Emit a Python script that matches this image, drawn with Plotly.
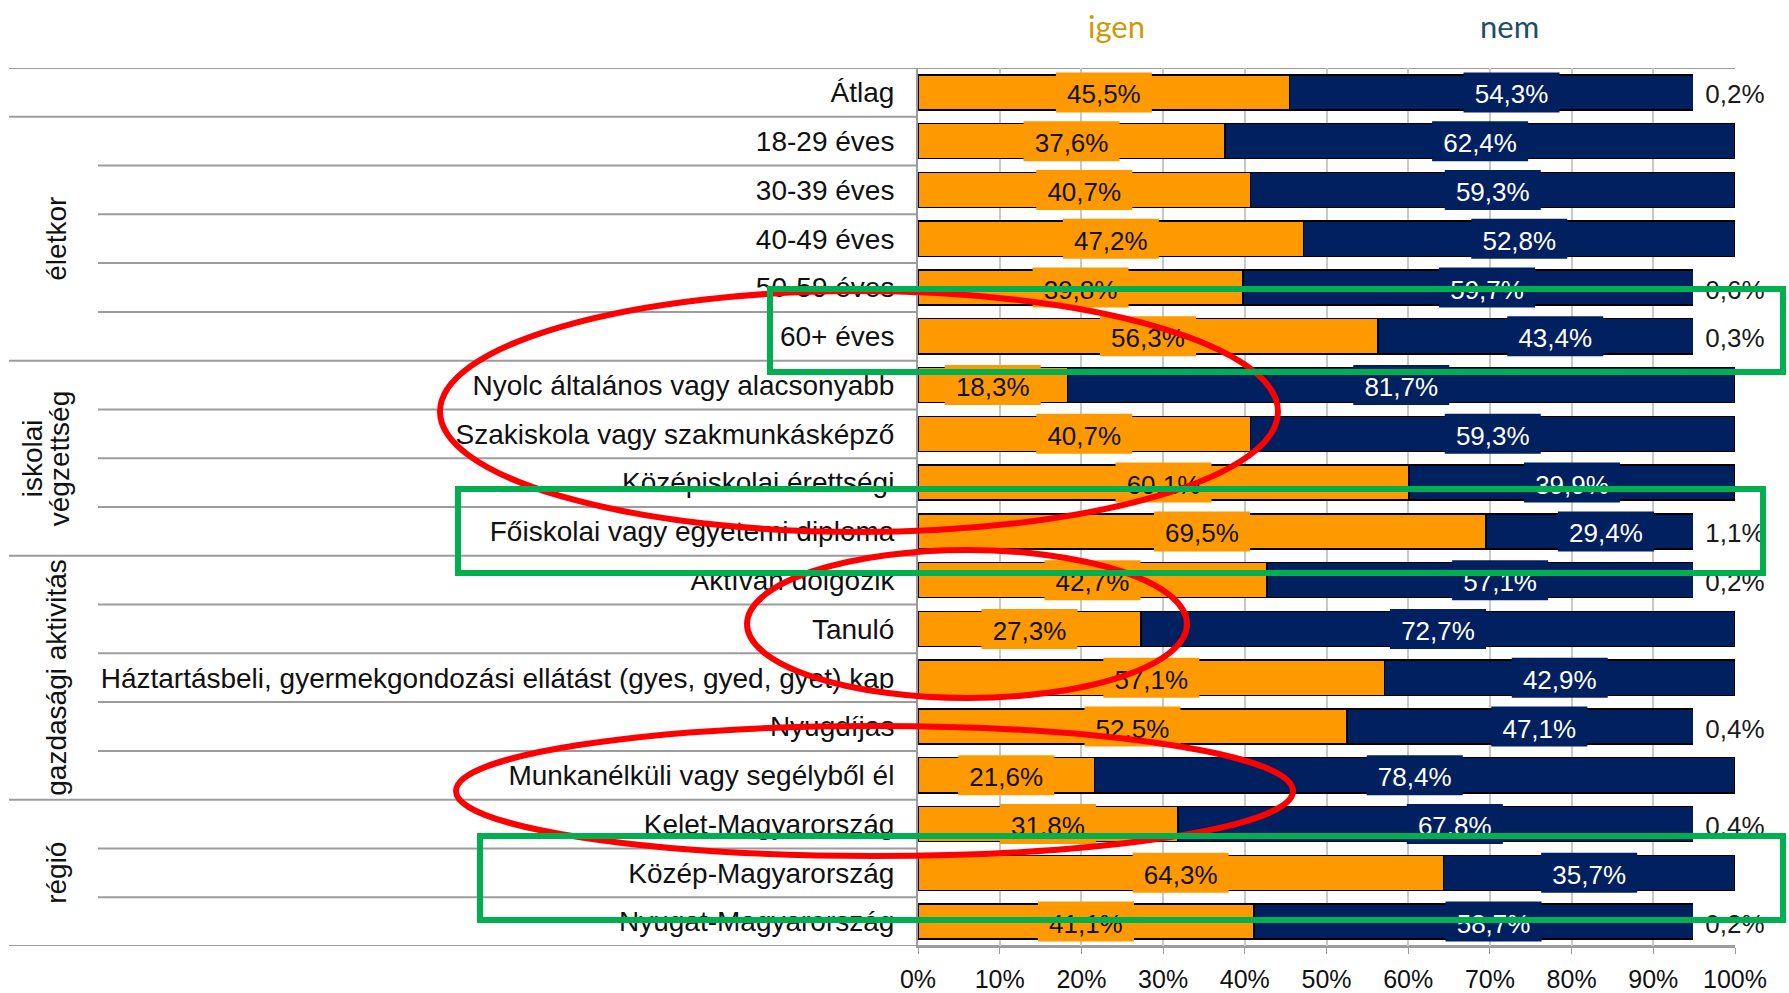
import plotly.graph_objects as go

# rows, top to bottom
labels = ["Átlag", "18-29 éves", "30-39 éves", "40-49 éves", "50-59 éves", "60+ éves",
          "Nyolc általános vagy alacsonyabb", "Szakiskola vagy szakmunkásképző",
          "Középiskolai érettségi", "Főiskolai vagy egyetemi diploma",
          "Aktívan dolgozik", "Tanuló",
          "Háztartásbeli, gyermekgondozási ellátást (gyes, gyed, gyet) kap",
          "Nyugdíjas", "Munkanélküli vagy segélyből él",
          "Kelet-Magyarország", "Közép-Magyarország", "Nyugat-Magyarország"]
igen = [45.5, 37.6, 40.7, 47.2, 39.8, 56.3, 18.3, 40.7, 60.1, 69.5,
        42.7, 27.3, 57.1, 52.5, 21.6, 31.8, 64.3, 41.1]
nem = [54.3, 62.4, 59.3, 52.8, 59.7, 43.4, 81.7, 59.3, 39.9, 29.4,
       57.1, 72.7, 42.9, 47.1, 78.4, 67.8, 35.7, 58.7]
egyeb = [0.2, 0, 0, 0, 0.6, 0.3, 0, 0, 0, 1.1,
         0.2, 0, 0, 0.4, 0, 0.4, 0, 0.2]
groups = [("életkor", 1, 5), ("iskolai", 6, 9), ("végzettség", 6, 9),
          ("gazdasági aktivitás", 10, 14), ("régió", 15, 17)]
group_x = [57, 32, 59, 57, 57]
group_breaks = [0.5, 5.5, 9.5, 14.5]

ORANGE = '#FF9900'
NAVY = '#002060'
GRID = '#9c9c9c'
FONT = 'Liberation Sans, Arial, sans-serif'

W, H = 1789, 993
L, R, T, B = 918, 1735, 68, 946
ROW_PX = (B - T) / len(labels)


def px(x):
    return (x - L) / (R - L)


def py(y):
    return (B - y) / (B - T)


def fmt(v):
    return f"{v:.1f}".replace('.', ',') + '%'


rows = list(range(len(labels)))
fig = go.Figure()
fig.add_trace(go.Bar(y=rows, x=igen, orientation='h', name='igen', width=0.72,
                     marker=dict(color=ORANGE, line=dict(color='black', width=1.5))))
fig.add_trace(go.Bar(y=rows, x=nem, orientation='h', name='nem', width=0.72,
                     marker=dict(color=NAVY, line=dict(color='black', width=1.5))))
fig.add_trace(go.Bar(y=rows, x=egyeb, orientation='h', name='egyéb', width=0.72,
                     marker=dict(color='white', line=dict(width=0))))

shapes = []
# separator lines in the label area
for k in range(len(labels) + 1):
    yb = k - 0.5
    if k == 0 or k == len(labels):
        x0, x1 = px(9), 1
    elif yb in group_breaks:
        x0, x1 = px(9), 0
    else:
        x0, x1 = px(98), 0
    shapes.append(dict(type='line', xref='paper', yref='y', x0=x0, x1=x1, y0=yb, y1=yb,
                       line=dict(color=GRID, width=2), layer='below'))

BOX_H = 40 / ROW_PX / 2


def label_box(xref, xc, half, y, text, fill, color):
    return dict(type='rect', xref=xref, yref='y', layer='above',
                x0=xc - half, x1=xc + half, y0=y - BOX_H, y1=y + BOX_H,
                fillcolor=fill, line=dict(width=0),
                label=dict(text=text, textposition='middle center', padding=0,
                           font=dict(family=FONT, size=26, color=color)))


half_x = 48 / (R - L) * 100
half_p = 42 / (R - L)
for i in rows:
    shapes.append(label_box('x', igen[i] / 2, half_x, i, fmt(igen[i]), ORANGE, '#111111'))
    shapes.append(label_box('x', igen[i] + nem[i] / 2, half_x, i, fmt(nem[i]), NAVY, 'white'))
    if egyeb[i] > 0:
        shapes.append(label_box('paper', 1, half_p, i, fmt(egyeb[i]), 'white', '#1a1a1a'))

# highlight marks drawn over the chart
for x0, y0, x1, y1 in [(440, 291, 1278, 532), (747, 550, 1187, 698), (456, 726, 1293, 856)]:
    shapes.append(dict(type='circle', xref='paper', yref='paper', layer='above',
                       x0=px(x0), x1=px(x1), y0=py(y1), y1=py(y0),
                       line=dict(color='#FF0000', width=6)))
for x0, y0, x1, y1 in [(770, 289, 1783, 372), (458, 489, 1763, 573), (480, 836, 1783, 920)]:
    shapes.append(dict(type='rect', xref='paper', yref='paper', layer='above',
                       x0=px(x0), x1=px(x1), y0=py(y1), y1=py(y0),
                       line=dict(color='#00B050', width=6)))

annotations = []
for (name, a, b), gx in zip(groups, group_x):
    annotations.append(dict(x=px(gx), y=(a + b) / 2, xref='paper', yref='y',
                            xanchor='center', yanchor='middle',
                            text=name, textangle=-90, showarrow=False,
                            font=dict(family=FONT, size=28, color='#111111')))

annotations.append(dict(x=px(1116), y=py(26), xref='paper', yref='paper', text='igen',
                        xanchor='center', yanchor='middle', showarrow=False,
                        font=dict(family='Lato, Open Sans', size=31, color='#CC9A06')))
annotations.append(dict(x=px(1509), y=py(26), xref='paper', yref='paper', text='nem',
                        xanchor='center', yanchor='middle', showarrow=False,
                        font=dict(family='Lato, Open Sans', size=31, color='#1F4E63')))

fig.update_layout(
    barmode='stack', showlegend=False, width=W, height=H,
    margin=dict(l=L, r=W - R, t=T, b=H - B),
    plot_bgcolor='white', paper_bgcolor='white',
    xaxis=dict(range=[0, 100], dtick=10, ticksuffix='%', showgrid=True,
               gridcolor='#c8c8c8', gridwidth=1.5, zeroline=False, automargin=False,
               showline=True, linecolor=GRID, linewidth=2,
               ticks='outside', ticklen=6, tickcolor=GRID, ticklabelstandoff=4,
               tickfont=dict(family=FONT, size=25, color='#111111')),
    yaxis=dict(range=[len(labels) - 0.5, -0.5], tickvals=rows, ticktext=labels,
               showgrid=False, zeroline=False, showline=True, linecolor=GRID, linewidth=2,
               ticks='', ticklabelstandoff=16, automargin=False,
               tickfont=dict(family=FONT, size=28, color='#111111')),
    annotations=annotations, shapes=shapes,
)

# drop the browser's default body margin so the figure fills the window exactly
fig.write_html("out.html", config={'displayModeBar': False},
               post_script="document.body.style.margin='0';document.body.style.overflow='hidden';")
